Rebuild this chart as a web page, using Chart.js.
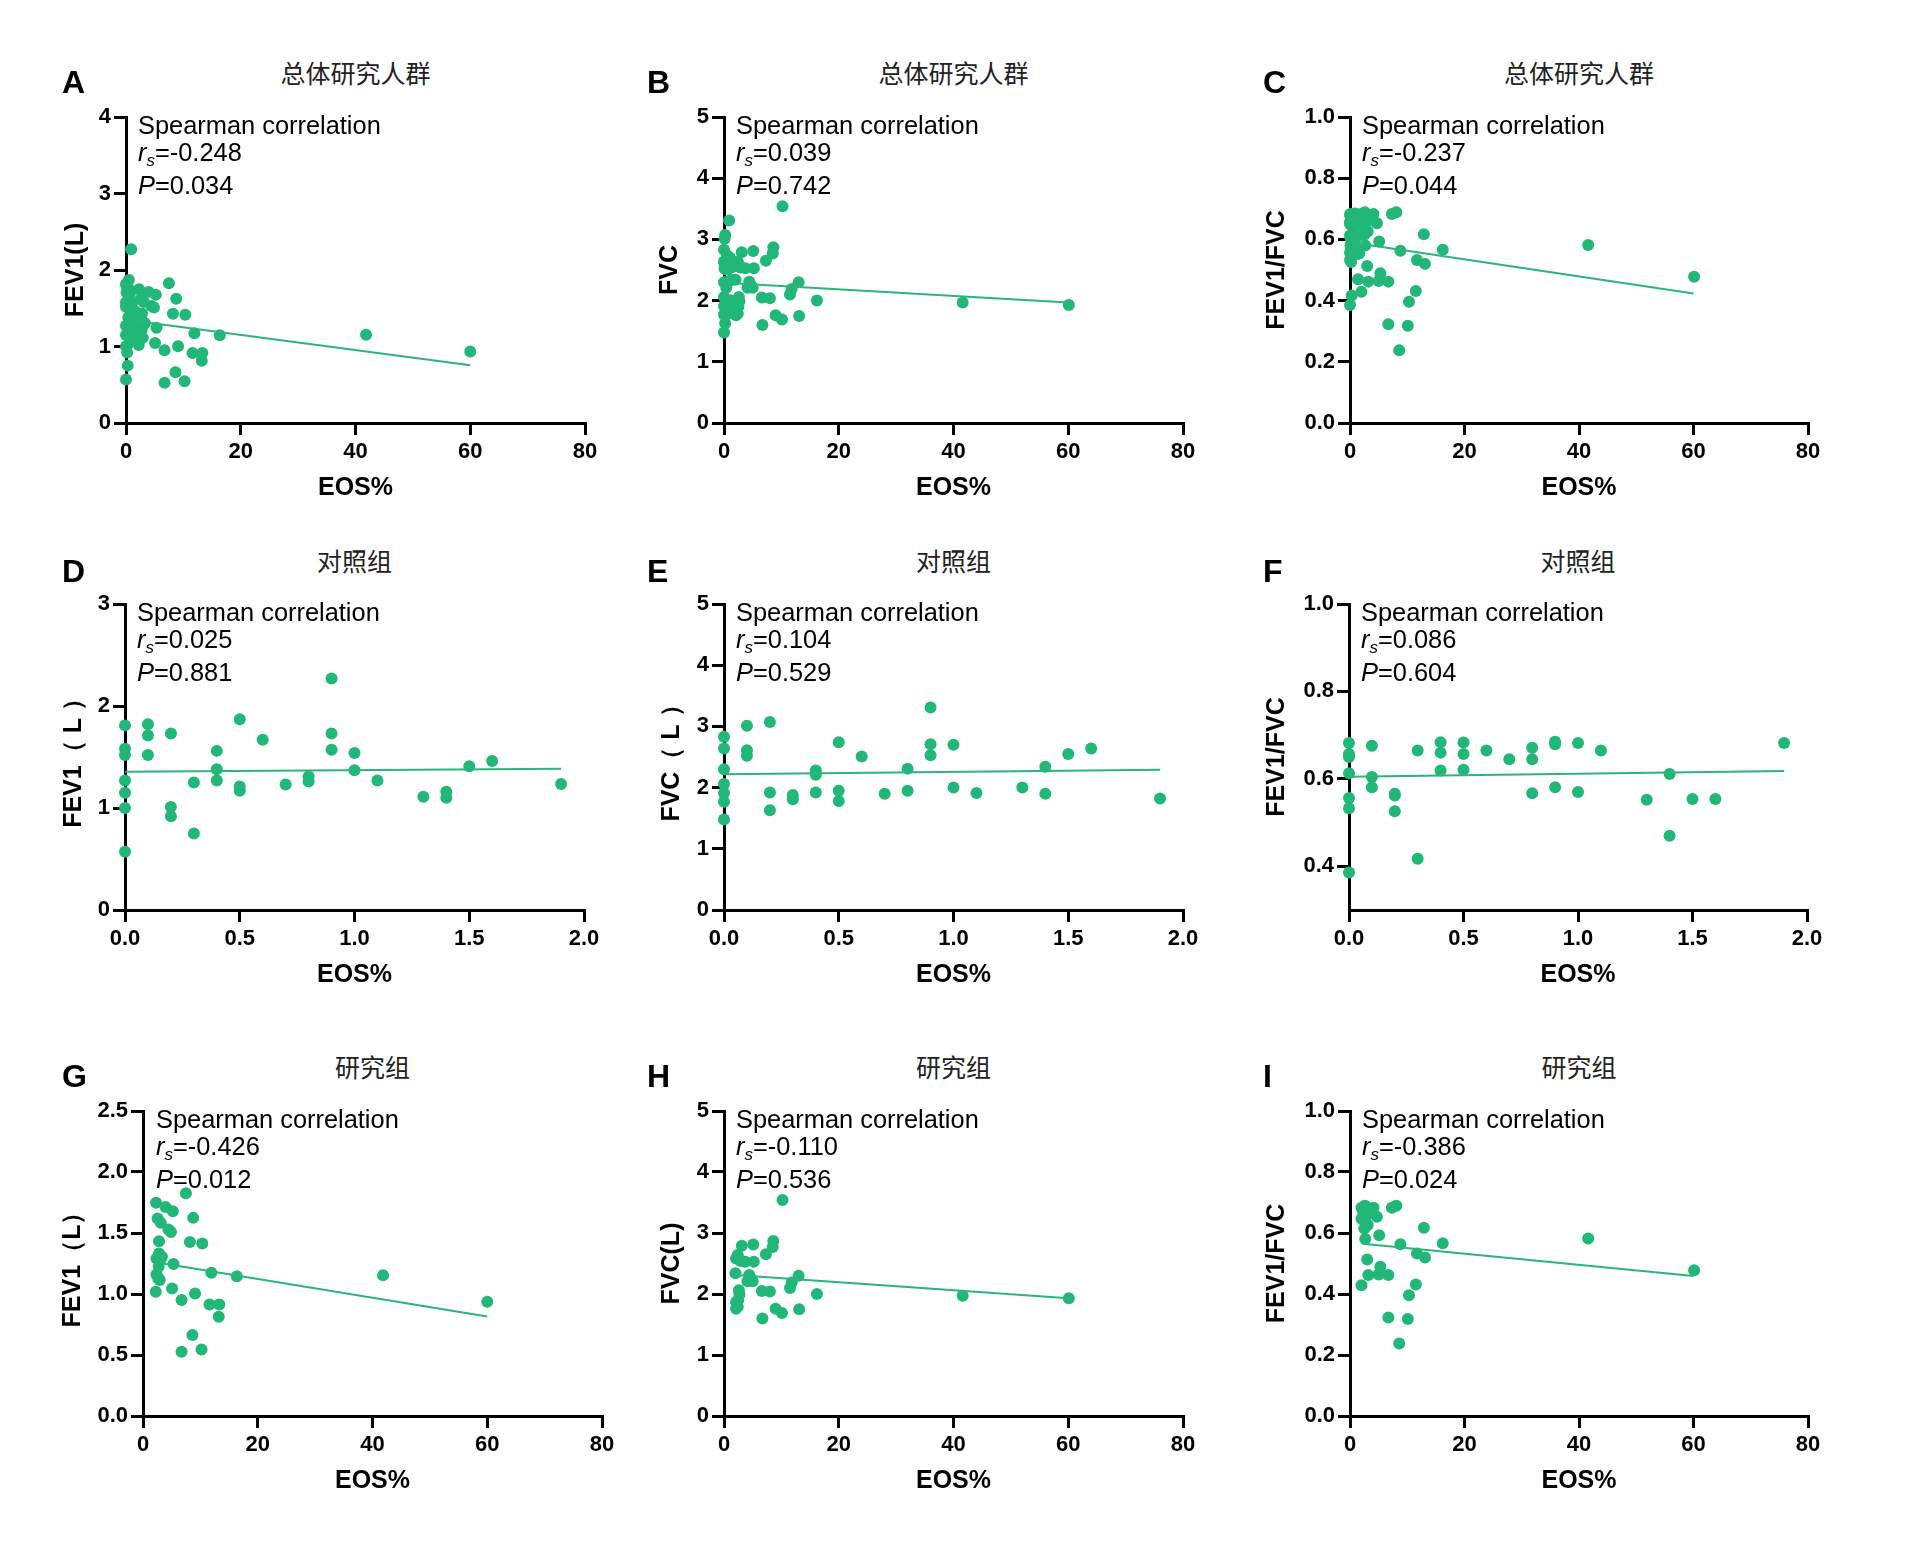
<!DOCTYPE html>
<html>
<head>
<meta charset="utf-8">
<script src="https://cdn.jsdelivr.net/npm/chart.js@4.4.1/dist/chart.umd.min.js"></script>
<style>
  body { margin: 0; background: #fff; }
  #fig { position: relative; width: 1920px; height: 1557px; overflow: hidden;
         font-family: 'Liberation Sans', Arial, sans-serif; color: #000; }
  #fig canvas { position: absolute; }
  .letter { position: absolute; font-size: 32px; font-weight: bold; line-height: 32px; }
  .group { position: absolute; font-family: 'Noto Sans CJK SC', sans-serif; font-size: 25px;
           line-height: 25px; transform: translateX(-50%); white-space: nowrap; color: #222; }
  .note { position: absolute; font-size: 25.4px; line-height: 30px; white-space: nowrap; }
  .note sub { font-size: 17px; vertical-align: -5px; line-height: 0; }
</style>
</head>
<body>
<div id="fig"></div>
<script>
// control group (EOS% < 2)
const ctrlFev1Eos = [0,0,0,0,0,0,0, 0.1,0.1,0.1, 0.2,0.2,0.2, 0.3,0.3, 0.4,0.4,0.4, 0.5,0.5,0.5, 0.6, 0.7, 0.8,0.8, 0.9,0.9,0.9, 1.0,1.0, 1.1, 1.3, 1.4,1.4, 1.5, 1.6, 1.9];
const ctrlFev1 = [1.81,1.58,1.52,1.27,1.15,1.00,0.57, 1.82,1.71,1.52, 1.73,1.01,0.92, 1.25,0.75, 1.56,1.38,1.27, 1.87,1.21,1.17, 1.67, 1.23, 1.31,1.26, 2.27,1.73,1.57, 1.54,1.37, 1.27, 1.11, 1.16,1.10, 1.41, 1.46, 1.235];

const ctrlFvcEos = [0,0,0,0,0,0,0, 0.1,0.1,0.1, 0.2,0.2,0.2, 0.3,0.3, 0.4,0.4,0.4, 0.5,0.5,0.5, 0.6, 0.7, 0.8,0.8, 0.9,0.9,0.9, 1.0,1.0, 1.1, 1.3, 1.4,1.4, 1.5, 1.6, 1.9];
const ctrlFvc = [2.83,2.64,2.30,2.06,1.91,1.77,1.48, 3.01,2.61,2.52, 3.07,1.92,1.63, 1.88,1.81, 2.28,2.21,1.92, 2.74,1.95,1.78, 2.51, 1.90, 2.31,1.95, 3.31,2.71,2.53, 2.70,2.00, 1.91, 2.00, 2.34,1.90, 2.55, 2.64, 1.82];

const ctrlRatioEos = [0,0,0,0,0,0,0, 0.1,0.1,0.1, 0.2,0.2,0.2, 0.3,0.3, 0.4,0.4,0.4, 0.5,0.5,0.5, 0.6, 0.7, 0.8,0.8,0.8, 0.9,0.9,0.9, 1.0,1.0, 1.1, 1.3, 1.4,1.4, 1.5, 1.6, 1.9];
const ctrlRatio = [0.682,0.657,0.650,0.613,0.556,0.533,0.386, 0.676,0.604,0.581, 0.566,0.562,0.526, 0.665,0.417, 0.684,0.660,0.619, 0.683,0.657,0.621, 0.665, 0.645, 0.671,0.645,0.567, 0.685,0.679,0.581, 0.682,0.570, 0.665, 0.552, 0.611,0.470, 0.554, 0.554, 0.682];

// study group (EOS% >= 2)
const studyFev1Eos = [2.28,2.54,3.1,2.79,3.93,5.2,4.44,4.88,7.48,8.75,8.18,10.33,2.79,3.3,2.35,2.98,2.73,5.32,2.35,2.66,2.92,11.92,16.35,41.84,2.22,5.07,6.72,9.07,11.6,13.3,13.2,60.0,8.62,6.72,10.2];
const studyFev1 = [1.747,1.618,1.583,1.433,1.714,1.678,1.528,1.509,1.826,1.624,1.427,1.414,1.332,1.305,1.291,1.277,1.223,1.245,1.160,1.127,1.114,1.174,1.146,1.154,1.018,1.045,0.950,1.004,0.914,0.914,0.813,0.936,0.663,0.527,0.546];

const studyFvcEos = [10.2,3.1,5.1,8.6,8.5,7.3,2.4,2.1,2.9,3.7,5.2,2.0,4.4,4.7,4.1,5.0,13.0,11.8,11.5,2.6,2.7,2.5,2.1,2.4,2.1,6.6,8.0,16.2,41.6,60.1,9.0,10.1,13.1,6.7];
const studyFvc = [3.54,2.79,2.81,2.87,2.77,2.65,2.64,2.58,2.54,2.53,2.53,2.34,2.31,2.25,2.21,2.21,2.30,2.19,2.10,2.06,1.99,1.90,1.87,1.79,1.76,2.05,2.04,2.00,1.97,1.93,1.76,1.69,1.75,1.60];

const studyRatioEos = [2.0,2.6,2.3,3.4,4.1,4.7,2.0,2.5,3.1,7.3,8.1,2.66,5.1,8.8,12.9,16.2,41.6,60.1,11.7,13.1,3.0,5.3,5.0,3.2,6.7,2.0,11.5,10.3,6.7,10.1,8.6,3.6,2.8];
const studyRatio = [0.683,0.689,0.669,0.680,0.683,0.653,0.647,0.615,0.626,0.683,0.689,0.580,0.593,0.563,0.617,0.566,0.582,0.478,0.533,0.520,0.513,0.489,0.464,0.462,0.462,0.429,0.431,0.396,0.323,0.318,0.238,0.670,0.655];

// whole cohort = control + study
const allFev1Eos = ctrlFev1Eos.concat(studyFev1Eos);
const allFev1 = ctrlFev1.concat(studyFev1);
const allFvcEos = ctrlFvcEos.concat(studyFvcEos);
const allFvc = ctrlFvc.concat(studyFvc);
const allRatioEos = ctrlRatioEos.concat(studyRatioEos);
const allRatio = ctrlRatio.concat(studyRatio);

// fitted line end points [x0, x1], [y0, y1]
const fitAx = [0, 60],   fitAy = [1.35, 0.754];
const fitBx = [0, 60],   fitBy = [2.29, 1.97];
const fitCx = [0, 60],   fitCy = [0.591, 0.423];
const fitDx = [0, 1.9],  fitDy = [1.356, 1.386];
const fitEx = [0, 1.9],  fitEy = [2.22, 2.29];
const fitFx = [0, 1.9],  fitFy = [0.605, 0.618];
const fitGx = [2.2, 60], fitGy = [1.26, 0.815];
const fitHx = [2.0, 60], fitHy = [2.31, 1.93];
const fitIx = [2.2, 60], fitIy = [0.565, 0.459];

const rsValues = ['-0.248', '0.039', '-0.237', '0.025', '0.104', '0.086', '-0.426', '-0.110', '-0.386'];
const pValues = ['0.034', '0.742', '0.044', '0.881', '0.529', '0.604', '0.012', '0.536', '0.024'];
const groupNames = ['总体研究人群', '对照组', '研究组'];
const panelLetters = ['A', 'B', 'C', 'D', 'E', 'F', 'G', 'H', 'I'];

// tick labels
const eosTicksWide = [0, 20, 40, 60, 80];
const eosTicksNarrow = [0, 0.5, 1.0, 1.5, 2.0];
const fev1TicksAll = [0, 1, 2, 3, 4];
const fev1TicksCtrl = [0, 1, 2, 3];
const fev1TicksStudy = [0, 0.5, 1.0, 1.5, 2.0, 2.5];
const fvcTicks = [0, 1, 2, 3, 4, 5];
const ratioTicks = [0, 0.2, 0.4, 0.6, 0.8, 1.0];
const ratioTicksCtrl = [0.4, 0.6, 0.8, 1.0];

const dotColor = '#21b779';
const lineColor = '#2bb57d';
const tickFont = { family: 'Liberation Sans', size: 22, weight: 'bold' };
const titleFont = { family: 'Liberation Sans', size: 25, weight: 'bold' };

const panels = [
  { yTitle: 'FEV1(L)',    xs: allFev1Eos,    ys: allFev1,    fx: fitAx, fy: fitAy, xT: eosTicksWide,   yT: fev1TicksAll,   xMax: 80, yMin: 0,   yMax: 4,   xDec: 0, yDec: 0, box: [126, 585, 117, 423],   gap: 50 },
  { yTitle: 'FVC',        xs: allFvcEos,     ys: allFvc,     fx: fitBx, fy: fitBy, xT: eosTicksWide,   yT: fvcTicks,       xMax: 80, yMin: 0,   yMax: 5,   xDec: 0, yDec: 0, box: [724, 1183, 117, 423],  gap: 54 },
  { yTitle: 'FEV1/FVC',   xs: allRatioEos,   ys: allRatio,   fx: fitCx, fy: fitCy, xT: eosTicksWide,   yT: ratioTicks,     xMax: 80, yMin: 0,   yMax: 1,   xDec: 0, yDec: 1, box: [1350, 1808, 117, 423], gap: 73 },
  { yTitle: 'FEV1（ L ）', xs: ctrlFev1Eos,   ys: ctrlFev1,   fx: fitDx, fy: fitDy, xT: eosTicksNarrow, yT: fev1TicksCtrl,  xMax: 2,  yMin: 0,   yMax: 3,   xDec: 1, yDec: 0, box: [125, 584, 604, 910],   gap: 51 },
  { yTitle: 'FVC（ L ）',  xs: ctrlFvcEos,    ys: ctrlFvc,    fx: fitEx, fy: fitEy, xT: eosTicksNarrow, yT: fvcTicks,       xMax: 2,  yMin: 0,   yMax: 5,   xDec: 1, yDec: 0, box: [724, 1183, 604, 910],  gap: 52 },
  { yTitle: 'FEV1/FVC',   xs: ctrlRatioEos,  ys: ctrlRatio,  fx: fitFx, fy: fitFy, xT: eosTicksNarrow, yT: ratioTicksCtrl, xMax: 2,  yMin: 0.3, yMax: 1,   xDec: 1, yDec: 1, box: [1349, 1807, 604, 910], gap: 72 },
  { yTitle: 'FEV1（L）',   xs: studyFev1Eos,  ys: studyFev1,  fx: fitGx, fy: fitGy, xT: eosTicksWide,   yT: fev1TicksStudy, xMax: 80, yMin: 0,   yMax: 2.5, xDec: 0, yDec: 1, box: [143, 602, 1111, 1416], gap: 70 },
  { yTitle: 'FVC(L)',     xs: studyFvcEos,   ys: studyFvc,   fx: fitHx, fy: fitHy, xT: eosTicksWide,   yT: fvcTicks,       xMax: 80, yMin: 0,   yMax: 5,   xDec: 0, yDec: 0, box: [724, 1183, 1111, 1416], gap: 52 },
  { yTitle: 'FEV1/FVC',   xs: studyRatioEos, ys: studyRatio, fx: fitIx, fy: fitIy, xT: eosTicksWide,   yT: ratioTicks,     xMax: 80, yMin: 0,   yMax: 1,   xDec: 0, yDec: 1, box: [1350, 1808, 1111, 1416], gap: 73 }
];

const fig = document.getElementById('fig');
const letterX = [62, 647, 1263];
const letterTop = [66, 555, 1060];
const groupTop = [60, 548, 1054];

function addDiv(cls, html, left, top) {
  const d = document.createElement('div');
  d.className = cls;
  d.innerHTML = html;
  d.style.left = left + 'px';
  d.style.top = top + 'px';
  fig.appendChild(d);
}

panels.forEach((p, i) => {
  const [L, R, T, B] = p.box;
  const row = Math.floor(i / 3), col = i % 3;
  const yW = p.gap + 15, xH = 80;
  const padL = 4, padT = 22, padR = 30, padB = 4;
  const w = (R - L) + yW + padL + padR;
  const h = (B - T) + xH + padT + padB;

  const cv = document.createElement('canvas');
  cv.width = w; cv.height = h;
  cv.style.width = w + 'px'; cv.style.height = h + 'px';
  cv.style.left = (L - yW - padL) + 'px';
  cv.style.top = (T - padT) + 'px';
  fig.appendChild(cv);

  const axisCommon = {
    type: 'linear',
    grid: { drawOnChartArea: false, drawTicks: true, tickLength: 12, lineWidth: 3, color: '#000' },
    border: { display: true, width: 3, color: '#000' }
  };

  new Chart(cv, {
    type: 'scatter',
    data: {
      datasets: [
        {
          data: p.fx.map((x, k) => ({ x: x, y: p.fy[k] })),
          showLine: true, borderColor: lineColor, borderWidth: 2,
          pointRadius: 0, order: 0, clip: false
        },
        {
          data: p.xs.map((x, k) => ({ x: x, y: p.ys[k] })),
          backgroundColor: dotColor, borderWidth: 0,
          pointRadius: 6, order: 1, clip: false
        }
      ]
    },
    options: {
      responsive: false,
      animation: false,
      devicePixelRatio: 1,
      layout: { padding: { left: padL, top: padT, right: padR, bottom: padB } },
      plugins: { legend: { display: false }, tooltip: { enabled: false } },
      scales: {
        x: Object.assign({}, axisCommon, {
          position: 'bottom', min: 0, max: p.xMax,
          afterBuildTicks: s => { s.ticks = p.xT.map(v => ({ value: v })); },
          afterFit: s => { s.height = xH; },
          ticks: { font: tickFont, color: '#000', padding: 4, maxRotation: 0, autoSkip: false,
                   callback: v => Number(v).toFixed(p.xDec) },
          title: { display: true, text: 'EOS%', font: titleFont, color: '#000', padding: 0 }
        }),
        y: Object.assign({}, axisCommon, {
          position: 'left', min: p.yMin, max: p.yMax,
          afterBuildTicks: s => { s.ticks = p.yT.map(v => ({ value: v })); },
          afterFit: s => { s.width = yW; },
          ticks: { font: tickFont, color: '#000', padding: 3, autoSkip: false,
                   callback: v => Number(v).toFixed(p.yDec) },
          title: { display: true, text: p.yTitle, font: titleFont, color: '#000', padding: 0 }
        })
      }
    }
  });

  addDiv('letter', panelLetters[i], letterX[col], letterTop[row]);
  addDiv('group', groupNames[row], (L + R) / 2, groupTop[row]);
  const nx = L + (i === 6 ? 13 : 12);
  addDiv('note', 'Spearman correlation', nx, T - 7);
  addDiv('note', '<i>r<sub>s</sub></i>=' + rsValues[i], nx, T + 20);
  addDiv('note', '<i>P</i>=' + pValues[i], nx, T + 53);
});
</script>
</body>
</html>
